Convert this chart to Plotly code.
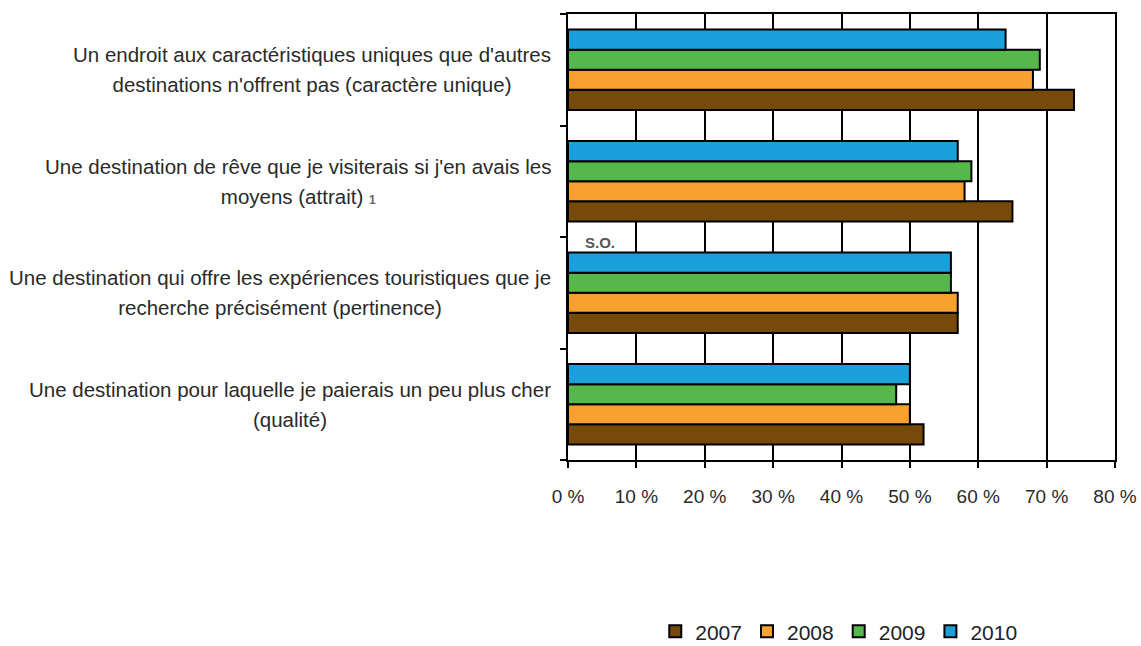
import plotly.graph_objects as go

# Attributes, listed bottom-to-top as they appear on the category axis
attributes = [
    "Une destination pour laquelle je paierais un peu plus cher<br>(qualité)",
    "Une destination qui offre les expériences touristiques que je<br>recherche précisément (pertinence)",
    "Une destination de rêve que je visiterais si j'en avais les<br>moyens (attrait) <span style='font-size:12px;color:#666'><b>1</b></span>",
    "Un endroit aux caractéristiques uniques que d'autres<br>destinations n'offrent pas (caractère unique)",
]
cat_keys = ["qualite", "pertinence", "attrait", "unique"]

years = ["2007", "2008", "2009", "2010"]
values_2007 = [52, 57, 65, 74]
values_2008 = [50, 57, 58, 68]
values_2009 = [48, 56, 59, 69]
values_2010 = [50, 56, 57, 64]
series = [values_2007, values_2008, values_2009, values_2010]
colors = ["#774a09", "#f8a12f", "#56b84b", "#1aa0da"]

x_ticks = [0, 10, 20, 30, 40, 50, 60, 70, 80]
x_tick_labels = [f"{v} %" for v in x_ticks]

FONT = "Liberation Sans, Arial, sans-serif"
LABEL_SIZE = 20.5

fig = go.Figure()
for year, vals, col in zip(years, series, colors):
    fig.add_trace(go.Bar(
        x=vals, y=cat_keys, orientation="h", name=year,
        marker=dict(color=col, line=dict(color="black", width=2)),
    ))

# multi-line category labels, centred line by line; the larger base size
# only sets the line spacing, glyphs use LABEL_SIZE
for key, label in zip(cat_keys, attributes):
    lines = label.split("<br>")
    text = "<br>".join(
        f"<span style='font-size:{LABEL_SIZE}px'>{ln}</span>" for ln in lines
    )
    fig.add_annotation(
        x=-0.028, xref="paper", y=key, yref="y",
        text=text, showarrow=False, xanchor="right", yanchor="middle",
        align="center", font=dict(family=FONT, size=23, color="#2a2a2a"),
    )

# "sans objet" note above the pertinence group
fig.add_annotation(
    x=0.058, xref="paper", y="pertinence", yref="y", yshift=50,
    text="<b>S.O.</b>", showarrow=False, xanchor="center", yanchor="middle",
    font=dict(family=FONT, size=15, color="#555555"),
)

fig.update_layout(
    width=1141, height=646,
    margin=dict(l=568, r=26, t=14, b=186, autoexpand=False),
    plot_bgcolor="white", paper_bgcolor="white",
    barmode="group", bargap=0.28, bargroupgap=0,
    font=dict(family=FONT, size=16, color="#2a2a2a"),
    legend=dict(
        orientation="h", x=0.495, xanchor="center", y=-0.385, yanchor="middle",
        traceorder="normal", font=dict(family=FONT, size=21, color="#222222"),
        itemwidth=30,
    ),
    xaxis=dict(
        range=[0, 80], tickvals=x_ticks, ticktext=x_tick_labels,
        showgrid=True, gridcolor="black", gridwidth=2,
        showline=True, linecolor="black", linewidth=2, mirror=True,
        ticks="outside", ticklen=6, tickwidth=2, tickcolor="black",
        ticklabelstandoff=12, zeroline=False,
        tickfont=dict(family=FONT, size=19, color="#2a2a2a"),
    ),
    yaxis=dict(
        categoryorder="array", categoryarray=cat_keys,
        showticklabels=False, tickson="boundaries",
        ticks="outside", ticklen=6, tickwidth=2, tickcolor="black",
        showline=True, linecolor="black", linewidth=2, mirror=True,
        showgrid=False,
    ),
)

fig.write_html("out.html")
